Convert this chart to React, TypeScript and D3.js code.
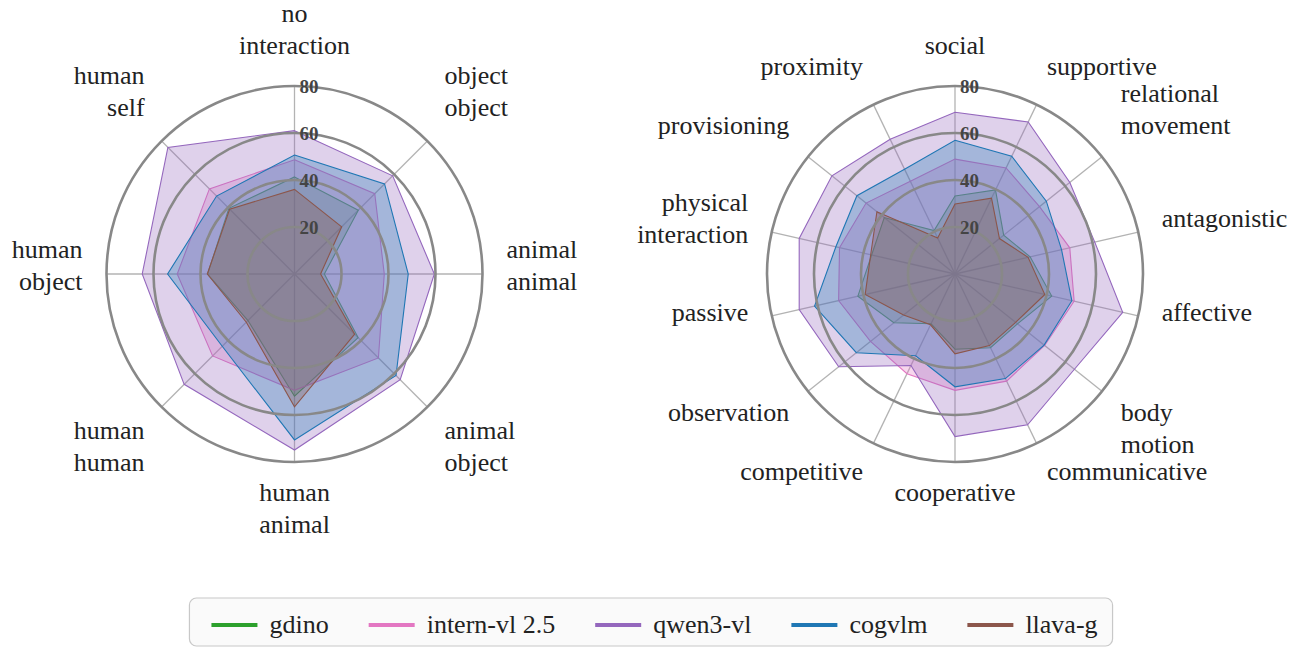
import React, { useMemo } from 'react';
import * as d3 from 'd3';

// ---- data ----
const leftCategories = [
  'no\ninteraction', 'object\nobject', 'animal\nanimal', 'animal\nobject',
  'human\nanimal', 'human\nhuman', 'human\nobject', 'human\nself',
];
const rightCategories = [
  'social', 'supportive', 'relational\nmovement', 'antagonistic', 'affective',
  'body\nmotion', 'communicative', 'cooperative', 'competitive', 'observation',
  'passive', 'physical\ninteraction', 'provisioning', 'proximity',
];

const seriesNames = ['gdino', 'intern-vl 2.5', 'qwen3-vl', 'cogvlm', 'llava-g'];
const seriesColors = ['#2ca02c', '#e377c2', '#9467bd', '#1f77b4', '#8c564b'];

const gdinoLeft = [41.3, 38.4, 12.7, 38.3, 52, 28, 37, 39.5];
const internLeft = [48.6, 48.3, 38.2, 50.5, 49.5, 49.3, 49.9, 51.2];
const qwenLeft = [61, 59.1, 59.5, 63.6, 74.9, 66.4, 64.8, 76.2];
const cogvlmLeft = [50.6, 54.2, 48.4, 61.1, 70.6, 43.5, 54, 46.9];
const llavaLeft = [36, 28.4, 11.1, 36.2, 56.5, 29, 37.1, 39];

const gdinoRight = [33.2, 39.7, 26.5, 32.8, 42.2, 34, 34.8, 32, 23.5, 33.3, 42.4, 36.4, 38.5, 20.5];
const internRight = [48.9, 50.1, 46, 50.1, 52, 48.8, 50.6, 49.5, 47.1, 46, 50.8, 50.4, 48.4, 43.8];
const qwenRight = [68.8, 71.8, 62.5, 61, 73.2, 65, 71.2, 69.2, 43.2, 63.3, 68, 68, 67, 63.6];
const cogvlmRight = [56.9, 55.6, 49.7, 46.5, 51, 48.5, 49.4, 48, 38.6, 53.7, 61.3, 52, 53.4, 49.5];
const llavaRight = [29.8, 35.8, 24.2, 31.9, 39.2, 33, 33.8, 34, 24, 28, 39.2, 36.8, 42.5, 17];

const radialTicks = [20, 40, 60, 80];

const FONT = "'Liberation Serif', 'Times New Roman', serif";
const W = 1302;
const H = 647;

const Radar = ({ cx, cy, categories, series }) => {
  const n = categories.length;
  const rScale = d3.scaleLinear().domain([0, 80]).range([0, 188]);
  const angle = (i) => (i * 2 * Math.PI) / n;
  const line = d3
    .lineRadial()
    .angle((d, i) => angle(i))
    .radius((d) => rScale(d))
    .curve(d3.curveLinearClosed);

  const labelR = 212;
  const fs = 26;
  const lh = 32;

  return (
    <g transform={`translate(${cx},${cy})`}>
      {/* spokes */}
      {categories.map((c, i) => (
        <line
          key={'sp' + i}
          x1={0}
          y1={0}
          x2={rScale(80) * Math.sin(angle(i))}
          y2={-rScale(80) * Math.cos(angle(i))}
          stroke='#b3b3b3'
          strokeWidth={1.3}
        />
      ))}
      {/* polygons */}
      {series.map((vals, s) => (
        <path
          key={'p' + s}
          d={line(vals)}
          fill={seriesColors[s]}
          fillOpacity={0.3}
          stroke={seriesColors[s]}
          strokeWidth={1.1}
        />
      ))}
      {/* circles */}
      {radialTicks.map((t) => (
        <circle key={'c' + t} r={rScale(t)} fill='none' stroke='#888' strokeWidth={2.6} />
      ))}
      {/* tick labels */}
      {radialTicks.map((t) => (
        <text
          key={'t' + t}
          x={5}
          y={-rScale(t)}
          dominantBaseline='central'
          fontFamily={FONT}
          fontWeight='bold'
          fontSize={19}
          fill='#444'
        >
          {t}
        </text>
      ))}
      {/* category labels */}
      {categories.map((c, i) => {
        const a = angle(i);
        const s = Math.sin(a);
        const co = Math.cos(a);
        const ax = labelR * s;
        const ay = -labelR * co;
        const anchor = s > 0.1 ? 'start' : s < -0.1 ? 'end' : 'middle';
        const lines = c.split('\n');
        const m = lines.length;
        let base;
        if (co > 0.4) base = (k) => ay - 8 - (m - 1 - k) * lh;
        else if (co < -0.4) base = (k) => ay + 15 + k * lh;
        else base = (k) => ay + (k - (m - 1) / 2) * lh;
        return (
          <text key={'l' + i} textAnchor={anchor} fontFamily={FONT} fontSize={fs} fill='#222'>
            {lines.map((ln, k) => (
              <tspan key={k} x={ax} y={base(k)}>
                {ln}
              </tspan>
            ))}
          </text>
        );
      })}
    </g>
  );
};

const Legend = ({ cx, y }) => {
  const fs = 26;
  const widths = useMemo(() => {
    const ctx = document.createElement('canvas').getContext('2d');
    ctx.font = `${fs}px ${FONT}`;
    return seriesNames.map((s) => ctx.measureText(s).width);
  }, []);
  const handle = 46;
  const gap = 12;
  const colSp = 40;
  const pad = 22;
  const total =
    widths.reduce((a, w) => a + handle + gap + w, 0) + colSp * (seriesNames.length - 1);
  const boxW = total + pad * 2 - 7;
  const x0 = cx - boxW / 2;
  let x = x0 + pad;
  const items = seriesNames.map((s, i) => {
    const item = { x, name: s, color: seriesColors[i] };
    x += handle + gap + widths[i] + colSp;
    return item;
  });
  return (
    <g>
      <rect x={x0} y={y} width={boxW} height={48} rx={7} fill='#fafafa' stroke='#c8c8c8' strokeWidth={1.2} />
      {items.map((it) => (
        <g key={it.name}>
          <line x1={it.x} x2={it.x + handle} y1={y + 27} y2={y + 27} stroke={it.color} strokeWidth={4} />
          <text x={it.x + handle + gap} y={y + 35} fontFamily={FONT} fontSize={fs} fill='#222'>
            {it.name}
          </text>
        </g>
      ))}
    </g>
  );
};

export default function App() {
  const leftSeries = [gdinoLeft, internLeft, qwenLeft, cogvlmLeft, llavaLeft];
  const rightSeries = [gdinoRight, internRight, qwenRight, cogvlmRight, llavaRight];
  return (
    <svg
      width={W}
      height={H}
      style={{ position: 'absolute', left: 0, top: 0, background: '#fff' }}
    >
      <Radar cx={294.5} cy={274} categories={leftCategories} series={leftSeries} />
      <Radar cx={955} cy={274} categories={rightCategories} series={rightSeries} />
      <Legend cx={651} y={598} />
    </svg>
  );
}
